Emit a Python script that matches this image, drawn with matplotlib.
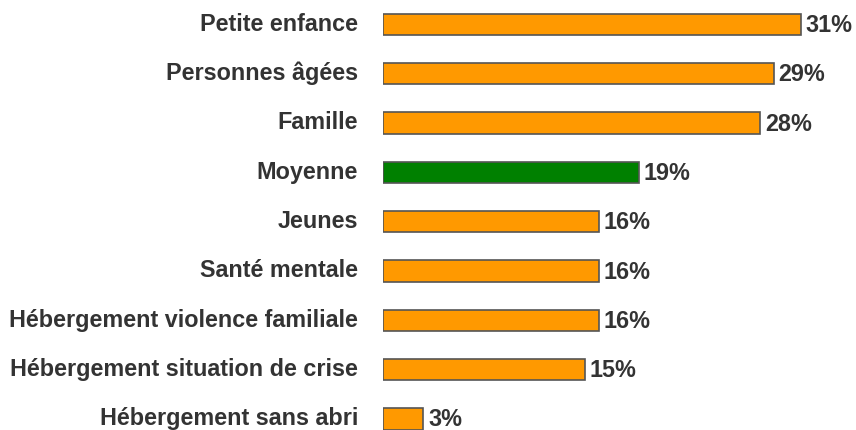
import matplotlib.pyplot as plt

categories = [
    "Petite enfance",
    "Personnes âgées",
    "Famille",
    "Moyenne",
    "Jeunes",
    "Santé mentale",
    "Hébergement violence familiale",
    "Hébergement situation de crise",
    "Hébergement sans abri",
]
values = [31, 29, 28, 19, 16, 16, 16, 15, 3]
labels = ["31%", "29%", "28%", "19%", "16%", "16%", "16%", "15%", "3%"]

orange = "#FF9900"
green = "#008000"
colors = [green if c == "Moyenne" else orange for c in categories]

plt.rcParams["font.family"] = ["Liberation Sans", "DejaVu Sans"]

fig = plt.figure(figsize=(8.56, 4.31), dpi=100)
ax = fig.add_axes([383 / 856, 0, 473 / 856, 1])

pos = list(range(len(categories)))
ax.barh(pos, values, height=0.43, color=colors, edgecolor="#555555", linewidth=1.2)

for p, v, lab in zip(pos, values, labels):
    ax.text(v + 0.35, p, lab, va="center", ha="left",
            fontsize=16.8, fontweight="bold", color="#333333")

# noms des catégories à gauche des barres
for p, cat in zip(pos, categories):
    ax.annotate(cat, xy=(0, p), xytext=(-18, 0.8), textcoords="offset points",
                ha="right", va="center", fontsize=16.8, fontweight="bold",
                color="#333333", annotation_clip=False)

ax.set_xlim(0, 473 / 13.48)
ax.set_ylim(8.225, -0.517)
ax.set_yticks([])
ax.set_xticks([])
for s in ax.spines.values():
    s.set_visible(False)

fig.savefig("out.png", dpi=100)
